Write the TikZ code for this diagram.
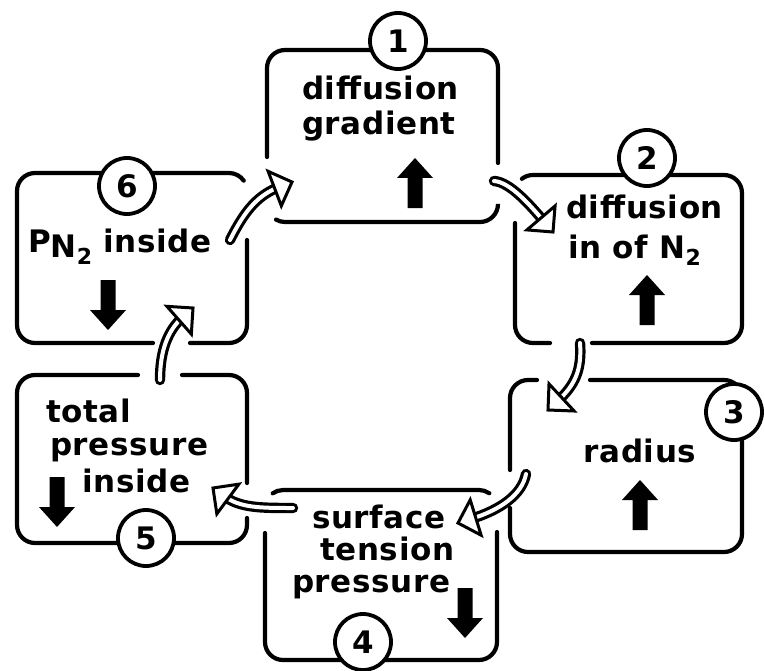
\documentclass[tikz,border=0pt]{standalone}
\usepackage{fontspec}
\setmainfont{DejaVu Sans}
\newfontfamily\lblfont{DejaVu Sans}[LetterSpace=2]
\usetikzlibrary{arrows.meta,decorations.markings}
\tikzset{
  bx/.style={line width=4.2pt, line cap=round, rounded corners=18pt},
  bxs/.style={line width=4.2pt, line cap=round},
  num/.style={circle, draw, line width=3.8pt, fill=white, minimum size=56pt, inner sep=0pt,
              font=\lblfont\bfseries\fontsize{31pt}{33pt}\selectfont},
  lbl/.style={inner sep=0pt, anchor=base west, font=\lblfont\bfseries\fontsize{31pt}{34pt}\selectfont},
  hbody/.style={double=white, double distance=4pt, line width=3.2pt, line cap=round, shorten >=13pt},
  hhead/.style={decoration={markings, mark=at position 1 with {\draw[line width=3pt, fill=white, line join=miter] (0,0) -- (-18.5,18.5) -- (-18.5,-18.5) -- cycle;}}, decorate},
  upblk/.pic={\fill (0,0) -- (18,20) -- (7.5,20) -- (7.5,50) -- (-7.5,50) -- (-7.5,20) -- (-18,20) -- cycle;},
  downblk/.pic={\fill (0,0) -- (18,-20) -- (7.5,-20) -- (7.5,-50) -- (-7.5,-50) -- (-7.5,-20) -- (-18,-20) -- cycle;}
}
\newcommand{\subtwo}{\raisebox{-7pt}{\fontsize{22pt}{24pt}\selectfont 2}}
\begin{document}
\begin{tikzpicture}[x=1pt,y=-1pt]
\fill[white] (0,0) rectangle (765,671);
\useasboundingbox (0,0) rectangle (765,671);

% ---- box 1
\draw[bx] (267,157) -- (267,50) -- (498,50) -- (498,163);
\draw[bxs] (276.0,219.6) arc[start angle=120,end angle=90,radius=18] -- (480,222) arc[start angle=90,end angle=0,radius=18] -- (498,205);
% ---- box 2
\draw[bxs] (521.9,178.8) arc[start angle=232,end angle=270,radius=18] -- (724,175) arc[start angle=270,end angle=360,radius=18] -- (742,325) arc[start angle=0,end angle=90,radius=18] -- (592,343);
\draw[bx] (515,223) -- (515,343) -- (550,343);
% ---- box 3
\draw[bx] (510,470) -- (510,380) -- (537,380);
\draw[bx] (590,380) -- (742,380) -- (742,552) -- (510,552) -- (510,508);
% ---- box 4
\draw[bxs] (272.7,493.3) arc[start angle=235,end angle=270,radius=18] -- (479,490) arc[start angle=270,end angle=305,radius=18];
\draw[bx] (265,533) -- (265,660) -- (497,660) -- (497,532);
% ---- box 5
\draw[bx] (138,375) -- (17,375) -- (17,543) -- (247,543) -- (247,518);
\draw[bx] (182,375) -- (247,375) -- (247,483);
% ---- box 6
\draw[bxs] (153,343) -- (35,343) arc[start angle=90,end angle=180,radius=18] -- (17,191) arc[start angle=180,end angle=270,radius=18] -- (229,173) arc[start angle=270,end angle=325,radius=18];
\draw[bx] (247,240) -- (247,343) -- (190,343);

% ---- numbered circles
\node[num] (c1) at (398,41) {1};
\node[num] (c2) at (647,158) {2};
\node[num] (c3) at (734,412) {3};
\node[num] (c4) at (363,642) {4};
\node[num] (c5) at (146,538) {5};
\node[num] (c6) at (127,186) {6};

% ---- texts
\node[lbl] (t1a) at (302,100) {diffusion};
\node[lbl] (t1b) at (302,135) {gradient};
\node[lbl] (t2a) at (566,218) {diffusion};
\node[lbl] (t2b) at (568,258) {in of N\subtwo};
\node[lbl, anchor=base] (t3) at (640,462) {radius};
\node[lbl] (t4a) at (312,528) {surface};
\node[lbl] (t4b) at (320,560) {tension};
\node[lbl] (t4c) at (292,592) {pressure};
\node[lbl] (t5a) at (46,422) {total};
\node[lbl] (t5b) at (50,455) {pressure};
\node[lbl] (t5c) at (82,492) {inside};
\node[lbl] (t6) at (28,252) {P\raisebox{-5pt}{N\subtwo} inside};

% ---- block arrows
\pic at (415,158) {upblk};
\pic at (647,275) {upblk};
\pic at (640,480) {upblk};
\pic at (465,638) {downblk};
\pic at (57,527) {downblk};
\pic at (108,330) {downblk};

% ---- hollow connector arrows
\coordinate (s61) at (230,240); \coordinate (e61) at (292,182);
\coordinate (s12) at (494,181); \coordinate (e12) at (553,232);
\coordinate (s23) at (580,343); \coordinate (e23) at (548,410);
\coordinate (s34) at (526,474); \coordinate (e34) at (458,523);
\coordinate (s45) at (293,508); \coordinate (e45) at (213,488);
\coordinate (s56) at (160,380); \coordinate (e56) at (193,308);

\draw[hbody] (s61) .. controls (245,210) and (258,195) .. (e61);
\path[hhead] (s61) .. controls (245,210) and (258,195) .. (e61);
\draw[hbody] (s12) .. controls (510,182) and (530,205) .. (e12);
\path[hhead] (s12) .. controls (510,182) and (530,205) .. (e12);
\draw[hbody] (s23) .. controls (582,370) and (575,385) .. (e23);
\path[hhead] (s23) .. controls (582,370) and (575,385) .. (e23);
\draw[hbody] (s34) .. controls (522,495) and (500,510) .. (e34);
\path[hhead] (s34) .. controls (522,495) and (500,510) .. (e34);
\draw[hbody] (s45) .. controls (260,508) and (240,508) .. (e45);
\path[hhead] (s45) .. controls (260,508) and (240,508) .. (e45);
\draw[hbody] (s56) .. controls (160,350) and (168,330) .. (e56);
\path[hhead] (s56) .. controls (160,350) and (168,330) .. (e56);
\end{tikzpicture}
\end{document}
